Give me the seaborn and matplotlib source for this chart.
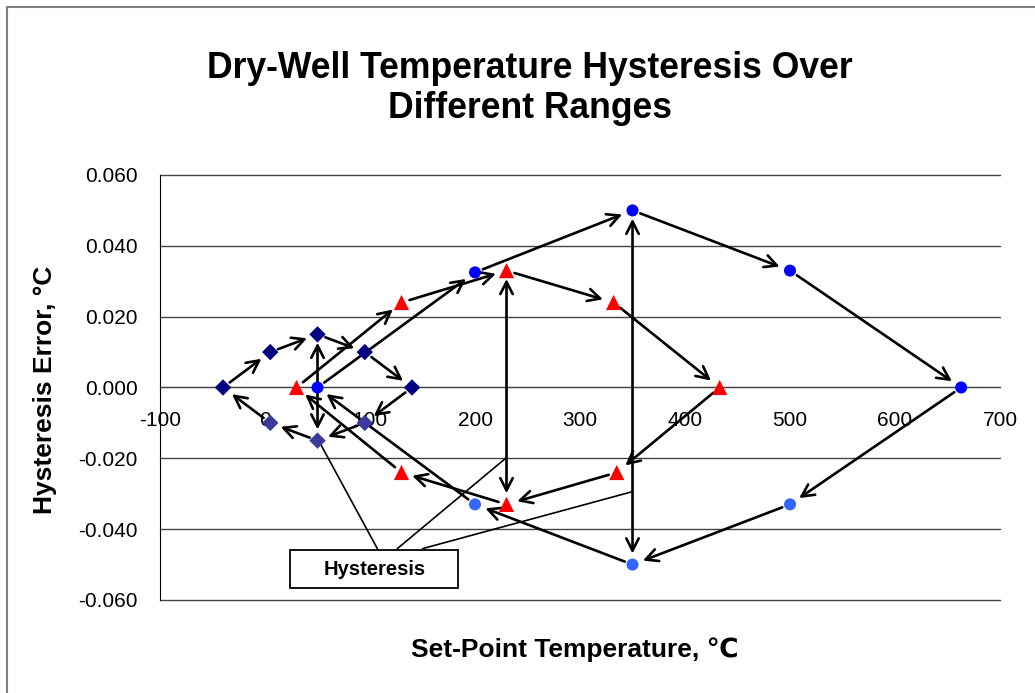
import numpy as np
import pandas as pd
import seaborn as sns
import matplotlib.pyplot as plt
from matplotlib.patches import Rectangle

# low range, diamonds (heating up / cooling down)
low_up_x = [-40, 5, 50, 95, 140]
low_up_y = [0.000, 0.010, 0.015, 0.010, 0.000]
low_dn_x = [5, 50, 95]
low_dn_y = [-0.010, -0.015, -0.010]

# mid range, triangles
mid_up_x = [30, 130, 230, 332, 433]
mid_up_y = [0.000, 0.024, 0.033, 0.024, 0.000]
mid_dn_x = [130, 230, 335]
mid_dn_y = [-0.024, -0.033, -0.024]

# high range, circles
high_up_x = [50, 200, 350, 500, 663]
high_up_y = [0.000, 0.0325, 0.050, 0.033, 0.000]
high_dn_x = [200, 350, 500]
high_dn_y = [-0.033, -0.050, -0.033]

x_ticks = [-100, 0, 100, 200, 300, 400, 500, 600, 700]
y_ticks = [-0.060, -0.040, -0.020, 0.000, 0.020, 0.040, 0.060]

series = {
    'low up': (low_up_x, low_up_y),
    'low down': (low_dn_x, low_dn_y),
    'mid up': (mid_up_x, mid_up_y),
    'mid down': (mid_dn_x, mid_dn_y),
    'high up': (high_up_x, high_up_y),
    'high down': (high_dn_x, high_dn_y),
}
df = pd.concat(
    [pd.DataFrame({'x': xs, 'y': ys, 'series': name}) for name, (xs, ys) in series.items()],
    ignore_index=True
)

sns.set_style("white")
plt.rcParams['font.family'] = ['Liberation Sans', 'DejaVu Sans']
plt.rcParams['axes.unicode_minus'] = False
for k in ['text.color', 'axes.labelcolor', 'xtick.color', 'ytick.color']:
    plt.rcParams[k] = 'black'

fig = plt.figure(figsize=(10.35, 6.93), dpi=100)
ax = fig.add_axes([0.1546, 0.1342, 0.8116, 0.6133])

palette = {'low up': '#000080', 'low down': '#3a3a9c', 'mid up': '#ff0000',
           'mid down': '#ff0000', 'high up': '#0000ff', 'high down': '#3366ff'}
markers = {'low up': 'D', 'low down': 'D', 'mid up': '^', 'mid down': '^',
           'high up': 'o', 'high down': 'o'}
sizes = {'low up': 70, 'low down': 70, 'mid up': 120, 'mid down': 120,
         'high up': 75, 'high down': 75}

sns.scatterplot(data=df, x='x', y='y', hue='series', style='series', size='series',
                palette=palette, markers=markers, sizes=sizes, edgecolor='none',
                legend=False, ax=ax, zorder=4)

arrow_kw = dict(arrowstyle='->,head_length=0.55,head_width=0.28', color='black',
                lw=1.9, mutation_scale=16, shrinkA=6, shrinkB=8)
both_kw = dict(arrow_kw, arrowstyle='<->,head_length=0.55,head_width=0.28')

# each range is a loop: up the heating points, back down the cooling points
for up, dn in [('low up', 'low down'), ('mid up', 'mid down'), ('high up', 'high down')]:
    ux, uy = series[up]
    dx, dy = series[dn]
    px = list(ux) + list(dx[::-1]) + [ux[0]]
    py = list(uy) + list(dy[::-1]) + [uy[0]]
    for i in range(len(px) - 1):
        ax.annotate('', xy=(px[i + 1], py[i + 1]), xytext=(px[i], py[i]),
                    arrowprops=arrow_kw, zorder=3)
    # hysteresis span at the middle point
    ax.annotate('', xy=(dx[1], dy[1]), xytext=(ux[2], uy[2]),
                arrowprops=both_kw, zorder=3)

# callout box
ax.add_patch(Rectangle((24, -0.0566), 160, 0.0108, facecolor='white',
                       edgecolor='black', lw=1.3, zorder=5))
ax.text(104, -0.0513, 'Hysteresis', ha='center', va='center', fontsize=14.5,
        fontweight='bold', zorder=6)
ax.plot([107, low_dn_x[1] + 2], [-0.0455, low_dn_y[1] - 0.0005], color='black', lw=1.2, zorder=3)
ax.plot([126, mid_dn_x[1]], [-0.0455, -0.0198], color='black', lw=1.2, zorder=3)
ax.plot([150, high_dn_x[1]], [-0.0455, -0.0294], color='black', lw=1.2, zorder=3)

ax.set_xlim(-100, 700)
ax.set_ylim(-0.06, 0.06)
ax.set_xticks(x_ticks)
ax.set_yticks(y_ticks)
ax.set_yticklabels([f'{v:.3f}' for v in y_ticks])
ax.set_xlabel('')
ax.set_ylabel('')
ax.grid(axis='y', color='#444444', lw=1.0)
ax.grid(axis='x', visible=False)
for gl in ax.get_ygridlines():
    gl.set_clip_on(False)
for s in ['top', 'right']:
    ax.spines[s].set_visible(False)
ax.spines['bottom'].set_position(('data', 0))
ax.spines['bottom'].set_color('#444444')
ax.spines['left'].set_color('black')
ax.tick_params(axis='x', direction='out', length=5, width=1, pad=12, labelsize=15)
ax.tick_params(axis='y', direction='out', length=6, width=1, pad=10, labelsize=15)

fig.text(0.512, 0.872, 'Dry-Well Temperature Hysteresis Over\nDifferent Ranges',
         ha='center', va='center', fontsize=25.6, fontweight='bold', linespacing=1.2)
fig.text(0.5556, 0.062, 'Set-Point Temperature, \u2103', ha='center', va='center',
         fontsize=19, fontweight='bold')
fig.text(0.0435, 0.437, 'Hysteresis Error, \u00b0C', ha='center', va='center',
         rotation=90, fontsize=19, fontweight='bold')

fig.add_artist(Rectangle((0.0068, -0.05), 1.2, 0.9899 + 0.05, transform=fig.transFigure,
                         fill=False, edgecolor='#808080', lw=1.5))

plt.savefig('out.png', dpi=100)
